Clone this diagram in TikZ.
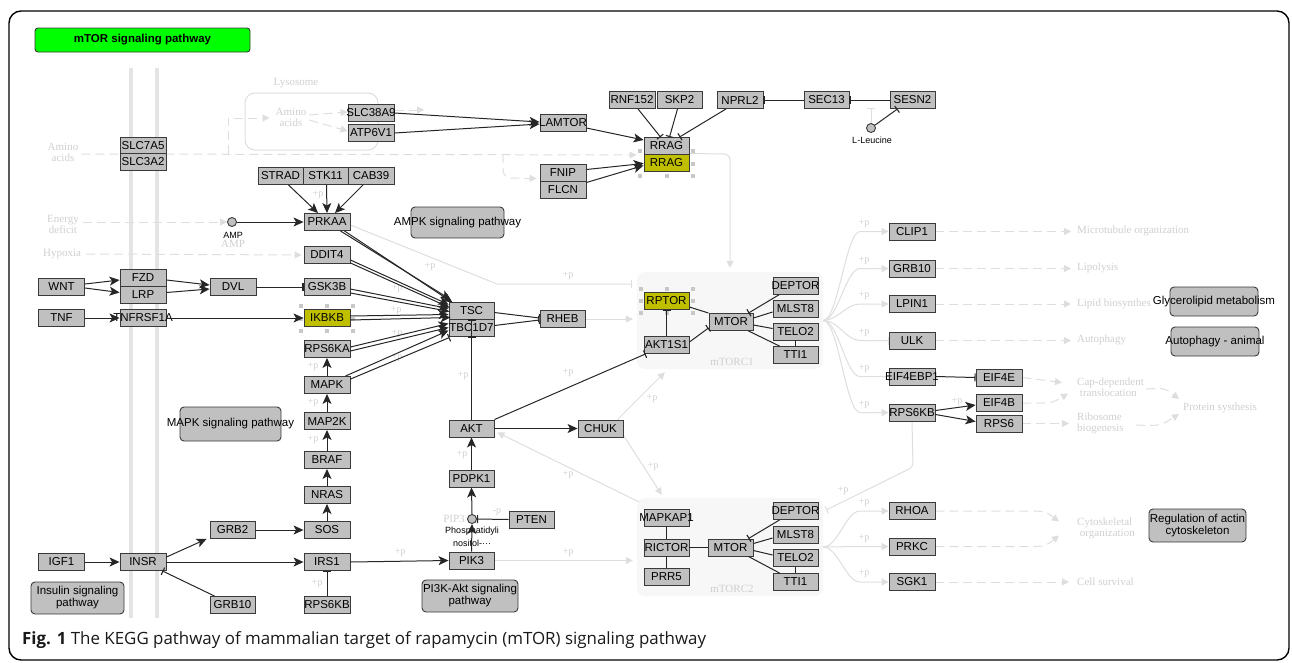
\documentclass[tikz,border=0pt]{standalone}
\usepackage{fontspec}
\usetikzlibrary{arrows.meta,calc}
\newfontfamily\genefont{Liberation Sans}
\newfontfamily\serifface{Liberation Serif}
\newfontfamily\capface{Open Sans}
\definecolor{boxfill}{HTML}{C0C0C0}
\definecolor{boxline}{HTML}{3A3A3A}
\definecolor{yel}{HTML}{BFBF00}
\definecolor{fline}{HTML}{DEDEDE}
\definecolor{ftext}{HTML}{CFCFCF}
\definecolor{hand}{HTML}{C8C8C8}
\definecolor{regfill}{HTML}{F7F7F7}
\definecolor{memb}{HTML}{E4E4E4}
\definecolor{titlegreen}{HTML}{00FF00}
\newcommand\ovr[1]{\makebox[0pt]{#1}}
\pgfdeclarelayer{bg}
\pgfdeclarelayer{mid}
\pgfsetlayers{bg,mid,main}
\tikzset{
  gbox/.style={draw=boxline, fill=boxfill, line width=0.9pt, minimum width=46pt, minimum height=17pt, inner sep=0pt, font=\genefont\fontsize{11.5}{12}\selectfont, text=black},
  ybox/.style={gbox, fill=yel},
  pbox/.style={draw=boxline, fill=boxfill, line width=0.9pt, rounded corners=4pt, inner sep=0pt, font=\genefont\fontsize{11.5}{13}\selectfont},
  cpd/.style={circle, draw=boxline, fill=boxfill, line width=0.9pt, minimum size=9pt, inner sep=0pt},
  smalllab/.style={font=\genefont\fontsize{9}{9}\selectfont, inner sep=0pt},
  blk/.style={line width=1pt, draw=black!85},
  act/.style={blk, -{Stealth[length=10pt,width=9pt,inset=2.5pt]}},
  inh/.style={blk, -{Bar[width=8pt,line width=1.1pt]}},
  faint/.style={draw=fline, line width=1pt},
  fdash/.style={faint, dash pattern=on 9pt off 5pt},
  ftip/.style={-{Triangle[length=7pt,width=7pt]}},
  fbar/.style={-{Bar[width=8pt]}},
  flab/.style={text=ftext, font=\serifface\fontsize{11}{11}\selectfont, inner sep=0pt, align=center},
  plab/.style={text=ftext, font=\serifface\fontsize{10}{10}\selectfont, inner sep=0pt},
  handle/.style={fill=hand, minimum size=4pt, inner sep=0pt},
  region/.style={fill=regfill, rounded corners=8pt, inner sep=0pt},
}
\begin{document}
\begin{tikzpicture}[x=1pt,y=-1pt]
\useasboundingbox (0,0) rectangle (1292,662);
\begin{pgfonlayer}{bg}
\draw[line width=1.4pt, rounded corners=12pt] (9,11) rectangle (1289,660);
\draw[memb, line width=4pt] (131,68) -- (131,618);
\draw[memb, line width=4pt] (157,68) -- (157,618);
\node[region, minimum width=186pt, minimum height=97pt] (c1) at (730,320.5) {};
\node[region, minimum width=186pt, minimum height=98pt] (c2) at (730,547) {};
\draw[fline, line width=1pt, rounded corners=10pt] (245,93) rectangle (378,150);
\end{pgfonlayer}

% title
\node[draw=boxline, fill=titlegreen, line width=0.9pt, rounded corners=3pt, minimum width=215pt, minimum height=24pt, inner sep=0pt, font=\genefont\bfseries\fontsize{11.5}{12}\selectfont] (title) at (142.5,40) {mTOR signaling pathway};

% genes
\node[gbox] (slc7a5) at (143,146) {\ovr{SLC7A5}};
\node[gbox] (slc3a2) at (143,162) {\ovr{SLC3A2}};
\node[gbox] (slc38a9) at (371,113) {\ovr{SLC38A9}};
\node[gbox] (atp6v1) at (371,133) {\ovr{ATP6V1}};
\node[gbox] (lamtor) at (563,123) {\ovr{LAMTOR}};
\node[gbox] (rnf152) at (632,100) {\ovr{RNF152}};
\node[gbox, minimum width=45pt] (skp2) at (679.5,100) {\ovr{SKP2}};
\node[gbox] (nprl2) at (740,100) {\ovr{NPRL2}};
\node[gbox, minimum width=45pt] (sec13) at (826.5,100) {\ovr{SEC13}};
\node[gbox, minimum width=45pt] (sesn2) at (912.5,100) {\ovr{SESN2}};
\node[cpd] (leu) at (871,128) {};
\node[smalllab] (leulab) at (872,140) {L-Leucine};
\node[gbox, minimum width=45pt] (rragA) at (666.5,146) {\ovr{RRAG}};
\node[ybox, minimum width=45pt] (rragB) at (666.5,162.5) {\ovr{RRAG}};
\node[gbox] (fnip) at (563,172.5) {\ovr{FNIP}};
\node[gbox] (flcn) at (563,189.5) {\ovr{FLCN}};
\node[gbox, minimum width=45pt] (strad) at (280.5,176) {\ovr{STRAD}};
\node[gbox, minimum width=45pt] (stk11) at (325.5,176) {\ovr{STK11}};
\node[gbox, minimum width=46pt] (cab39) at (371,176) {\ovr{CAB39}};
\node[gbox] (prkaa) at (327,222) {\ovr{PRKAA}};
\node[cpd] (amp) at (232,222) {};
\node[smalllab] (amplab) at (233,235) {AMP};
\node[pbox, minimum width=93pt, minimum height=31pt] (ampk) at (457.5,222.5) {\ovr{AMPK signaling pathway}};
\node[gbox] (ddit4) at (327,255) {\ovr{DDIT4}};
\node[gbox] (gsk3b) at (327,287) {\ovr{GSK3B}};
\node[ybox] (ikbkb) at (327,318) {\ovr{IKBKB}};
\node[gbox] (rps6ka) at (327,349) {\ovr{RPS6KA}};
\node[gbox] (mapk) at (327,385) {\ovr{MAPK}};
\node[gbox] (map2k) at (327,421) {\ovr{MAP2K}};
\node[gbox] (braf) at (327,460) {\ovr{BRAF}};
\node[gbox] (nras) at (327,495) {\ovr{NRAS}};
\node[gbox] (sos) at (327,530) {\ovr{SOS}};
\node[gbox] (irs1) at (327,562) {\ovr{IRS1}};
\node[gbox] (rps6kbB) at (327,605) {\ovr{RPS6KB}};
\node[gbox] (wnt) at (61.5,287) {\ovr{WNT}};
\node[gbox] (fzd) at (143,278) {\ovr{FZD}};
\node[gbox] (lrp) at (143,294.5) {\ovr{LRP}};
\node[gbox] (dvl) at (233,287) {\ovr{DVL}};
\node[gbox] (tnf) at (61.5,318) {\ovr{TNF}};
\node[gbox] (tnfrsf1a) at (143,318) {\ovr{TNFRSF1A}};
\node[pbox, minimum width=101pt, minimum height=34pt] (mapkp) at (230.5,424) {\ovr{MAPK signaling pathway}};
\node[gbox, minimum width=45pt] (grb2) at (232.5,530) {\ovr{GRB2}};
\node[gbox] (igf1) at (61.5,562) {\ovr{IGF1}};
\node[gbox] (insr) at (143,562) {\ovr{INSR}};
\node[gbox, minimum width=45pt] (grb10B) at (232.5,605) {\ovr{GRB10}};
\node[pbox, minimum width=93pt, minimum height=32pt] (insp) at (77.5,598) {\ovr{\begin{tabular}{@{}c@{}}Insulin signaling\\[-1pt]pathway\end{tabular}}};
\node[gbox, minimum width=45pt] (tsc) at (471.5,310.5) {\ovr{TSC}};
\node[gbox, minimum width=45pt] (tbc1d7) at (471.5,327.5) {\ovr{TBC1D7}};
\node[gbox, minimum width=45pt] (rheb) at (562.5,319) {\ovr{RHEB}};
\node[gbox, minimum width=45pt] (akt) at (471.5,428.5) {\ovr{AKT}};
\node[gbox, minimum width=45pt] (chuk) at (600.5,428.5) {\ovr{CHUK}};
\node[gbox, minimum width=45pt] (pdpk1) at (471.5,478.5) {\ovr{PDPK1}};
\node[cpd] (pip3) at (472,519) {};
\node[smalllab] (piplab1) at (472,531) {Phosphatidyli};
\node[smalllab] (piplab2) at (472,543) {nositol-···};
\node[gbox, minimum width=45pt] (pten) at (531.5,519.5) {\ovr{PTEN}};
\node[gbox, minimum width=45pt] (pik3) at (471.5,560.5) {\ovr{PIK3}};
\node[pbox, minimum width=96pt, minimum height=32pt] (pi3kp) at (470,596) {\ovr{\begin{tabular}{@{}c@{}}PI3K-Akt signaling\\[-1pt]pathway\end{tabular}}};
% mTORC1
\node[ybox, minimum width=45pt] (rptor) at (666.5,301) {\ovr{RPTOR}};
\node[gbox, minimum width=45pt] (akt1s1) at (666.5,345) {\ovr{AKT1S1}};
\node[gbox, minimum width=44pt] (mtor1) at (731,322) {\ovr{MTOR}};
\node[gbox, minimum width=45pt] (deptor1) at (795.5,285.5) {\ovr{DEPTOR}};
\node[gbox, minimum width=45pt] (mlst8a) at (795.5,309) {\ovr{MLST8}};
\node[gbox, minimum width=45pt] (telo2a) at (795.5,331.5) {\ovr{TELO2}};
\node[gbox, minimum width=45pt] (tti1a) at (795.5,355) {\ovr{TTI1}};
% mTORC2
\node[gbox, minimum width=45pt] (mapkap1) at (666.5,517.5) {\ovr{MAPKAP1}};
\node[gbox, minimum width=45pt] (rictor) at (666.5,547.5) {\ovr{RICTOR}};
\node[gbox, minimum width=45pt] (prr5) at (666.5,576.5) {\ovr{PRR5}};
\node[gbox, minimum width=45pt] (mtor2) at (730.5,547.5) {\ovr{MTOR}};
\node[gbox, minimum width=45pt] (deptor2) at (795.5,511) {\ovr{DEPTOR}};
\node[gbox, minimum width=45pt] (mlst8b) at (795.5,535) {\ovr{MLST8}};
\node[gbox, minimum width=45pt] (telo2b) at (795.5,558) {\ovr{TELO2}};
\node[gbox, minimum width=45pt] (tti1b) at (795.5,582) {\ovr{TTI1}};
% right column
\node[gbox] (clip1) at (912,231.5) {\ovr{CLIP1}};
\node[gbox] (grb10R) at (912,268.5) {\ovr{GRB10}};
\node[gbox] (lpin1) at (912,304) {\ovr{LPIN1}};
\node[gbox] (ulk) at (912,340.5) {\ovr{ULK}};
\node[gbox] (eif4ebp1) at (912,376.5) {\ovr{EIF4EBP1}};
\node[gbox] (rps6kbR) at (912,412.5) {\ovr{RPS6KB}};
\node[gbox] (eif4e) at (999,377.5) {\ovr{EIF4E}};
\node[gbox] (eif4b) at (999,403) {\ovr{EIF4B}};
\node[gbox] (rps6) at (999,423.5) {\ovr{RPS6}};
\node[gbox] (rhoa) at (912,511) {\ovr{RHOA}};
\node[gbox] (prkc) at (912,546.5) {\ovr{PRKC}};
\node[gbox] (sgk1) at (912,582) {\ovr{SGK1}};
% pathway boxes right
\node[fill=white, text=white, inner sep=1pt, font=\genefont\fontsize{11.5}{12}\selectfont] (glycov) at (1213,301.5) {Glycerolipid metabolism};
\node[pbox, minimum width=88pt, minimum height=29pt] (glyc) at (1214,301.5) {\ovr{Glycerolipid metabolism}};
\node[pbox, minimum width=88pt, minimum height=29pt] (autop) at (1215,341.5) {\ovr{Autophagy - animal}};
\node[pbox, minimum width=97pt, minimum height=33pt] (actin) at (1197.5,525.5) {\ovr{\begin{tabular}{@{}c@{}}Regulation of actin\\[-1pt]cytoskeleton\end{tabular}}};

% caption
\node[anchor=base west, inner sep=0pt, text=black!90, font=\capface\fontsize{16.9}{17}\selectfont] (caption) at (22,644) {\textbf{Fig. 1} The KEGG pathway of mammalian target of rapamycin (mTOR) signaling pathway};

% ---------- faint layer ----------
\begin{pgfonlayer}{mid}
\node[flab] (aaout) at (63,152) {Amino\\acids};
\node[flab] (energy) at (63,224) {Energy\\deficit};
\node[flab] (hypoxia) at (62,254) {Hypoxia};
\node[flab] (lysolab) at (296,83) {Lysosome};
\node[flab] (aain) at (291,117) {Amino\\acids};
\node[flab] (ampf) at (233,244) {AMP};
\node[flab] (pipf) at (454,519) {PIP3};
\node[flab] (c1lab) at (732,362) {mTORC1};
\node[flab] (c2lab) at (732,589) {mTORC2};
\draw[fdash, ftip] ($(aaout.east)+(3,2)$) -- ($(rragA.south west)+(-7,0)$);
\draw[fdash, ftip] (228,154) -- (228,118) -- ($(aain.west)+(-6,1)$);
\draw[fdash, ftip, rounded corners=8pt] (503,154) -- (503,178) -- ($(fnip.south west)+(-3,-3)$);
\draw[fdash, ftip] ($(aain.east)+(3,-2)$) -- ($(slc38a9.west)+(0,-1)$);
\draw[fdash, ftip] ($(aain.east)+(3,3)$) -- ($(atp6v1.west)+(0,-2)$);
\coordinate (slcout) at (424,110);
\draw[fdash, ftip] ($(slc38a9.east)+(1,-3)$) -- (slcout);
\draw[fdash, ftip] ($(energy.east)+(4,-2)$) -- (amp.west);
\draw[fdash, ftip] ($(hypoxia.east)+(5,0)$) -- ($(ddit4.west)+(-2,0)$);
\draw[faint, fbar] ($(prkaa.east)+(0,3)$) -- (497,284) -- ($(c1.west)+(-5,-36.5)$);
\draw[faint, ftip] (rheb.east) -- ($(c1.west)+(-4,-1.5)$);
\draw[faint, ftip, rounded corners=6pt] (rragB.north east) -- (730,154) -- ($(c1.north)+(0,-4)$);
\draw[faint, ftip] ($(chuk.north east)+(-6,0)$) -- ($(c1.south west)+(28,3)$);
\draw[faint, ftip] ($(chuk.south east)+(0,-2)$) -- ($(c2.north west)+(25,-3)$);
\draw[faint, ftip] ($(c2.north west)+(2,4)$) -- ($(akt.east)+(3,4)$);
\draw[faint, ftip] (pik3.east) -- ($(c2.west)+(-4,13.5)$);
\draw[faint, fbar, rounded corners=4pt] (rps6kbR.south) -- (913,467) -- ($(c2.east)+(3,-37)$);
\draw[faint, fbar] (leu.north) -- (871,108);
% mTORC1 fan
\foreach \n/\yy/\tp in {clip1/231.5/ftip, grb10R/268.5/ftip, lpin1/304/ftip, ulk/340.5/fbar, eif4ebp1/376.5/fbar, rps6kbR/412.5/ftip}{
  \draw[faint,\tp] (c1.east) .. controls (838,320) and (846,\yy) .. (860,\yy) -- (\n.west);
  \node[plab] (p\n) at (864,\yy-8) {+p};
}
\foreach \n/\yy in {rhoa/511, prkc/546.5, sgk1/582}{
  \draw[faint,ftip] (c2.east) .. controls (838,547) and (846,\yy) .. (860,\yy) -- (\n.west);
  \node[plab] (p\n) at (864,\yy-8) {+p};
}
% outputs
\node[flab, anchor=west] (micro) at (1077,231) {Microtubule organization};
\node[flab, anchor=west] (lipo) at (1077,268) {Lipolysis};
\node[flab, anchor=west] (lipid) at (1077,304) {Lipid biosynthesis};
\node[flab, anchor=west] (autof) at (1077,340) {Autophagy};
\node[flab, anchor=west, align=left] (capdep) at (1077,387.5) {Cap-dependent\\\ translocation};
\node[flab, anchor=west, align=left] (ribo) at (1077,423) {Ribosome\\biogenesis};
\node[flab, anchor=west] (prot) at (1183,408) {Protein systhesis};
\node[flab, anchor=west, align=left] (cyto) at (1077,528.5) {Cytoskeletal\\\ organization};
\node[flab, anchor=west] (surv) at (1077,582) {Cell survival};
\draw[fdash, ftip] (clip1.east) -- ($(micro.west)+(-6,0.5)$);
\draw[fdash, ftip] (grb10R.east) -- ($(lipo.west)+(-6,0.5)$);
\draw[fdash, ftip] (lpin1.east) -- ($(lipid.west)+(-6,0)$);
\draw[fdash, ftip] (ulk.east) -- ($(autof.west)+(-6,0.5)$);
\draw[fdash, ftip] (eif4e.east) -- ($(capdep.west)+(-15,-5)$);
\draw[fdash, ftip] (eif4b.east) -- (1040,403) .. controls (1052,403) .. ($(capdep.west)+(-9,6)$);
\draw[fdash, ftip] (rps6.east) -- ($(ribo.west)+(-8,0.5)$);
\draw[fdash, ftip] (1146,389) .. controls (1165,388) .. ($(prot.west)+(-4,-9)$);
\draw[fdash, ftip] (1136,425) .. controls (1160,426) .. ($(prot.west)+(-4,6)$);
\draw[fdash, ftip] (rhoa.east) -- (1025,511) .. controls (1045,511) .. ($(cyto.west)+(-18,-7)$);
\draw[fdash, ftip] (prkc.east) -- (1025,546.5) .. controls (1045,546.5) .. ($(cyto.west)+(-18,7)$);
\draw[fdash, ftip] (sgk1.east) -- ($(surv.west)+(-8,0)$);
% +p labels
\node[plab] (pa) at (318,195) {+p};
\node[plab] (pb) at (430,267) {+p};
\node[plab] (pc) at (397,289) {+p};
\node[plab] (pd) at (396,311) {+p};
\node[plab] (pe) at (397,334) {+p};
\node[plab] (pf) at (397,358) {+p};
\node[plab] (pg) at (463,376) {+p};
\node[plab] (ph) at (313,367) {+p};
\node[plab] (pi) at (313,403) {+p};
\node[plab] (pj) at (313,440) {+p};
\node[plab] (pk) at (317,584) {+p};
\node[plab] (pl) at (400,553) {+p};
\node[plab] (pm) at (462,455) {+p};
\node[plab] (pn) at (497,512) {-p};
\node[plab] (po) at (568,475) {+p};
\node[plab] (pp) at (653,467) {+p};
\node[plab] (pq) at (568,553) {+p};
\node[plab] (pr) at (568,373) {+p};
\node[plab] (ps) at (652,399) {+p};
\node[plab] (pt) at (568,276) {+p};
\node[plab] (pu) at (843,491) {+p};
\node[plab] (pv) at (957,402) {+p};
% selection handles
\foreach \hx/\hy in {640/151,666.5/151,693/151,640/163.5,693/163.5,640/176,666.5/176,693/176,
  301/306,327/306,353/306,301/318.5,353/318.5,301/331,327/331,353/331,
  641/289,667/289,693/289,641/301,693/301,641/313,667/313,693/313}
  \node[handle] at (\hx,\hy) {};
\end{pgfonlayer}

% ---------- black connectors ----------
\draw[act] (slc38a9.east) -- ($(lamtor.west)+(0,-1)$);
\draw[act] (atp6v1.east) -- ($(lamtor.west)+(0,1)$);
\draw[act] ($(lamtor.east)+(0,5)$) -- ($(rragA.west)+(0,-6)$);
\draw[act] ($(fnip.east)+(0,-3)$) -- ($(rragB.west)+(0,1)$);
\draw[act] ($(flcn.east)+(0,-7)$) -- ($(rragB.west)+(0,3)$);
\draw[inh] ($(rnf152.south)+(6,0)$) -- ($(rragA.north)+(-6,0)$);
\draw[inh] ($(skp2.south)+(-2,0)$) -- ($(rragA.north)+(3,0)$);
\draw[inh] ($(nprl2.south)+(-14,0)$) -- ($(rragA.north)+(13,0)$);
\draw[inh] (sec13.west) -- (nprl2.east);
\draw[inh] (sesn2.west) -- (sec13.east);
\draw[inh] (leu) -- ($(sesn2.south)+(-15,0)$);
\draw[act] ($(strad.south)+(8,0)$) -- ($(prkaa.north)+(-9,0)$);
\draw[act] ($(stk11.south)+(1,0)$) -- (prkaa.north);
\draw[act] ($(cab39.south)+(-8,0)$) -- ($(prkaa.north)+(8,0)$);
\draw[act] (amp) -- (prkaa.west);
\draw[act] ($(prkaa.south east)+(-10,0)$) -- ($(tsc.west)+(2,-11)$);
\draw[act] ($(prkaa.south east)+(-6,0)$) -- ($(tsc.west)+(4,-8)$);
\draw[act] ($(ddit4.east)+(0,5)$) -- ($(tsc.west)+(0,-6)$);
\draw[act] ($(ddit4.east)+(0,8)$) -- ($(tsc.west)+(1,-3)$);
\draw[act] ($(gsk3b.east)+(0,2)$) -- ($(tsc.west)+(0,-2)$);
\draw[act] ($(gsk3b.east)+(0,6)$) -- ($(tsc.west)+(1,1)$);
\draw[act] ($(ikbkb.east)+(0,-2)$) -- ($(tsc.west)+(0,4)$);
\draw[act] ($(ikbkb.east)+(0,2)$) -- ($(tsc.west)+(2,7)$);
\draw[act] ($(rps6ka.east)+(0,-2)$) -- ($(tbc1d7.west)+(0,-4)$);
\draw[act] ($(rps6ka.east)+(0,2)$) -- ($(tbc1d7.west)+(0,0)$);
\draw[act] ($(mapk.north east)+(-5,0)$) -- ($(tbc1d7.west)+(0,3)$);
\draw[inh] ($(mapk.north east)+(0,3)$) -- ($(tbc1d7.south west)+(1,1)$);
\draw[act] ($(wnt.east)+(0,-3)$) -- ($(fzd.west)+(0,2)$);
\draw[act] ($(wnt.east)+(0,1)$) -- ($(lrp.west)+(0,-2)$);
\draw[act] ($(fzd.east)+(0,2)$) -- ($(dvl.west)+(0,-2)$);
\draw[act] ($(lrp.east)+(0,-2)$) -- ($(dvl.west)+(0,2)$);
\draw[inh] (dvl.east) -- (gsk3b.west);
\draw[act] (tnf.east) -- (tnfrsf1a.west);
\draw[act] (tnfrsf1a.east) -- (ikbkb.west);
\draw[inh] ($(tsc.east)+(0,2)$) -- ($(rheb.west)+(0,-1)$);
\draw[inh] ($(tbc1d7.east)+(0,-2)$) -- ($(rheb.west)+(0,1)$);
\draw[act] (mapk.north) -- (rps6ka.south);
\draw[act] (map2k.north) -- (mapk.south);
\draw[act] (braf.north) -- (map2k.south);
\draw[act] (nras.north) -- (braf.south);
\draw[act] (sos.north) -- (nras.south);
\draw[act] (grb2.east) -- (sos.west);
\draw[act] ($(insr.east)+(0,-5)$) -- ($(grb2.south west)+(-3,0)$);
\draw[act] (igf1.east) -- (insr.west);
\draw[act] (insr.east) -- (irs1.west);
\draw[inh] ($(grb10B.north west)+(5,0)$) -- ($(insr.south east)+(-4,0)$);
\draw[inh] (rps6kbB.north) -- (irs1.south);
\draw[act] (irs1.east) -- (pik3.west);
\draw[act] (pik3.north) -- (pip3.south);
\draw[act] (pip3.north) -- (pdpk1.south);
\draw[inh] (pten.west) -- (pip3.east);
\draw[act] (pdpk1.north) -- (akt.south);
\draw[inh] (akt.north) -- (tsc.south);
\draw[inh] (akt.north) -- (tbc1d7.south);
\draw[act] (akt.east) -- (chuk.west);
\draw[inh] (akt.north east) -- ($(akt1s1.south west)+(2,0)$);
\draw[inh] (akt1s1.north) -- (rptor.south);
\draw[blk] ($(rptor.east)+(0,6)$) -- (mtor1.north west);
\draw[inh] ($(akt1s1.east)+(0,-3)$) -- ($(mtor1.south west)+(0,-3)$);
\draw[inh] ($(deptor1.south west)+(7,0)$) -- ($(mtor1.north east)+(-5,0)$);
\draw[blk] ($(mlst8a.west)+(0,3)$) -- ($(mtor1.east)+(0,-4)$);
\draw[blk] ($(telo2a.west)+(0,-3)$) -- ($(mtor1.east)+(0,3)$);
\draw[blk] ($(tti1a.north west)+(7,0)$) -- ($(mtor1.south east)+(-5,0)$);
\draw[blk] (telo2a.south) -- (tti1a.north);
\draw[blk] (mapkap1.south) -- (rictor.north);
\draw[blk] (rictor.south) -- (prr5.north);
\draw[blk] (rictor.east) -- (mtor2.west);
\draw[inh] ($(deptor2.south west)+(7,0)$) -- ($(mtor2.north east)+(-5,0)$);
\draw[blk] ($(mlst8b.west)+(0,3)$) -- ($(mtor2.east)+(0,-4)$);
\draw[blk] ($(telo2b.west)+(0,-3)$) -- ($(mtor2.east)+(0,3)$);
\draw[blk] ($(tti1b.north west)+(7,0)$) -- ($(mtor2.south east)+(-5,0)$);
\draw[blk] (telo2b.south) -- (tti1b.north);
\draw[inh] (eif4ebp1.east) -- (eif4e.west);
\draw[act] ($(rps6kbR.east)+(0,-2)$) -- ($(eif4b.west)+(0,2)$);
\draw[act] ($(rps6kbR.east)+(0,2)$) -- ($(rps6.west)+(0,-2)$);
\end{tikzpicture}
\end{document}
